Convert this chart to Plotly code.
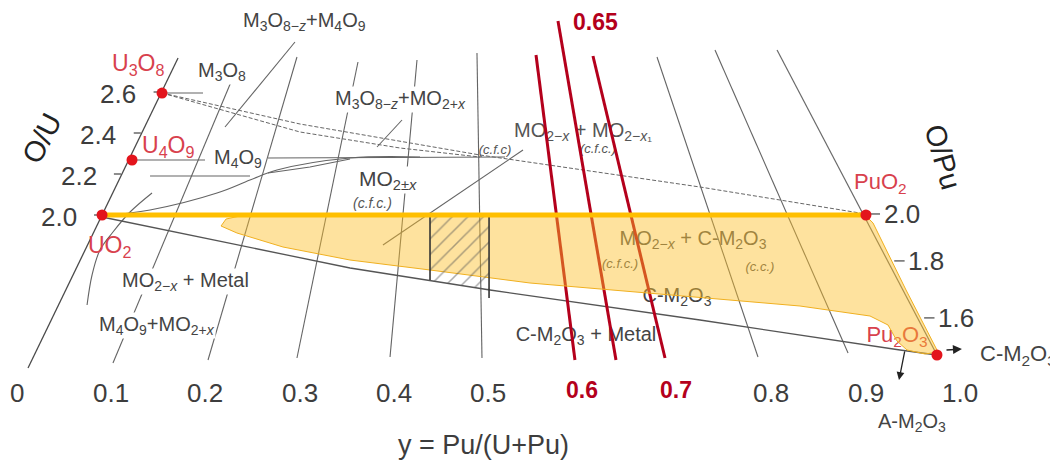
import numpy as np
import plotly.graph_objects as go

# ---------------- DATA (diagram coordinates) ----------------
# x: y = Pu/(U+Pu) scale along the bottom; y: O/M scale (O/U side)
pu_ticks = [0, 0.1, 0.2, 0.3, 0.4, 0.5, 0.6, 0.7, 0.8, 0.9, 1.0]
pu_tick_labels = ["0", "0.1", "0.2", "0.3", "0.4", "0.5", "0.6", "0.7", "0.8", "0.9", "1.0"]
pu_red_ticks = [0.6, 0.7]
pu_label_level = 1.132

ou_ticks = [2.0, 2.2, 2.4, 2.6]
ou_axis_x = [0.0138, 0.1729]
ou_axis_y = [1.2537, 2.7659]

opu_tick_labels = ["2.0", "1.8", "1.6"]
opu_tick_level = [2.005, 1.776, 1.498]
opu_axis_x = [0.8081, 0.9777]
opu_axis_y = [2.8049, 1.3171]

# iso-composition lines
iso_1_x = [0.1039, 0.2344]; iso_1_y = [1.278, 2.7073]
iso_2_x = [0.2047, 0.2990]; iso_2_y = [1.2927, 2.7707]
iso_3_x = [0.2990, 0.3637]; iso_3_y = [1.3024, 2.7463]
iso_4_x = [0.3977, 0.4263]; iso_4_y = [1.3073, 2.7561]
iso_5_x = [0.4952, 0.4899]; iso_5_y = [1.3024, 2.7902]
iso_8_x = [0.6808, 0.7879]; iso_8_y = [2.7707, 1.3073]
iso_9_x = [0.7423, 0.8834]; iso_9_y = [2.8049, 1.3268]

# phase boundaries
u3o8_tie_x = [0.1559, 0.1994]; u3o8_tie_y = [2.595, 2.595]
u4o9_tie_x = [0.1241, 0.2015]; u4o9_tie_y = [2.2683, 2.2683]
m4o9_upper_x = [0.2683, 0.5196]; m4o9_upper_y = [2.278, 2.2829]
m4o9_lower_x = [0.1432, 0.2492]; m4o9_lower_y = [2.1902, 2.1902]
mo2x_upper_x = [0.0933, 0.1432, 0.2142, 0.2492, 0.2778, 0.3553, 0.4295]
mo2x_upper_y = [1.9951, 2.0244, 2.1073, 2.1707, 2.2195, 2.278, 2.2829]
m4o9_curve_x = [0.2683, 0.3128, 0.3553]
m4o9_curve_y = [2.2049, 2.2341, 2.2732]
uo2_curve_x = [0.0764, 0.0817, 0.0901, 0.1039, 0.1220, 0.1453]
uo2_curve_y = [1.561, 1.7073, 1.8293, 1.9171, 2.0146, 2.1073]
m3o8_leader_x = [0.2969, 0.2227]; m3o8_leader_y = [2.8439, 2.4293]
m3o8_mo2_leader_x = [0.4104, 0.3839]; m3o8_mo2_leader_y = [2.4634, 2.3317]
cfc_line_x = [0.3902, 0.5387]; cfc_line_y = [1.8537, 2.3171]
metal_bound_x = [0.0923, 0.3553, 0.5037, 0.7264, 0.9385, 0.9777]
metal_bound_y = [1.9902, 1.7415, 1.6341, 1.4878, 1.3415, 1.317]
dash_top_x = [0.1559, 0.3022, 0.4931, 0.7264, 0.9024]
dash_top_y = [2.595, 2.4439, 2.2927, 2.1366, 2.0049]
dash_low_x = [0.1559, 0.3022, 0.4083, 0.4931]
dash_low_y = [2.595, 2.4049, 2.3268, 2.2829]

# two-phase MO2-x + C-M2O3 field (highlighted)
field_x = [0.2185, 0.2238, 0.2386, 0.9024, 0.9099, 0.9449, 0.9788, 0.9650, 0.9459, 0.9353,
           0.9258, 0.9067, 0.8324, 0.7582, 0.6522, 0.5461, 0.4401, 0.3552, 0.2842, 0.2354, 0.2185]
field_y = [1.9463, 1.9805, 1.9951, 1.9951, 1.961, 1.6341, 1.3317, 1.322, 1.3415, 1.3854,
           1.4634, 1.5073, 1.5561, 1.5854, 1.6244, 1.6683, 1.7317, 1.7805, 1.8439, 1.9122, 1.9463]
hatch_x = [0.4401, 0.5027, 0.5027, 0.4401, 0.4401]
hatch_y = [1.9902, 1.9902, 1.6341, 1.678, 1.9902]
hatch_left_x = [0.4401, 0.4401]; hatch_left_y = [1.9902, 1.6829]
hatch_right_x = [0.5027, 0.5027]; hatch_right_y = [1.9902, 1.5951]

# O/M = 2.0 line UO2 -> PuO2
om2_x = [0.0923, 0.9024]; om2_y = [2.0, 2.0]

# Pu content cuts
cut_060_x = [0.5525, 0.5938]; cut_060_y = [2.7805, 1.2927]
cut_065_x = [0.5758, 0.6373]; cut_065_y = [2.9463, 1.2927]
cut_070_x = [0.6129, 0.6893]; cut_070_y = [2.7756, 1.3024]

# compounds
compound_names = ["U3O8", "U4O9", "UO2", "PuO2", "Pu2O3"]
compound_x = [0.1559, 0.1241, 0.0923, 0.9024, 0.9777]
compound_y = [2.595, 2.2683, 2.0, 2.0, 1.317]

# ---------------- STYLE ----------------
FONT = "Liberation Sans, Arial, sans-serif"
GRAY = "rgb(100,100,100)"
TXT = "#3d3d3d"
RED_LBL = "#d8414d"
DARK_RED = "#b4001c"

fig = go.Figure()

def line(xs, ys, color=GRAY, width=1.1, dash=None):
    fig.add_trace(go.Scatter(x=xs, y=ys, mode="lines", hoverinfo="skip", showlegend=False,
                             line=dict(color=color, width=width, dash=dash)))

# gray structure
line(ou_axis_x, ou_axis_y, color="#4a4a4a", width=1.3)
line(opu_axis_x, opu_axis_y, color="#6a6a6a", width=1.2)
for xs, ys in [(iso_1_x, iso_1_y), (iso_2_x, iso_2_y), (iso_3_x, iso_3_y), (iso_4_x, iso_4_y),
               (iso_5_x, iso_5_y), (iso_8_x, iso_8_y), (iso_9_x, iso_9_y),
               (u3o8_tie_x, u3o8_tie_y), (u4o9_tie_x, u4o9_tie_y), (m4o9_upper_x, m4o9_upper_y),
               (m4o9_lower_x, m4o9_lower_y), (m4o9_curve_x, m4o9_curve_y),
               (m3o8_leader_x, m3o8_leader_y), (m3o8_mo2_leader_x, m3o8_mo2_leader_y),
               (cfc_line_x, cfc_line_y)]:
    line(xs, ys)
fig.add_trace(go.Scatter(x=mo2x_upper_x, y=mo2x_upper_y, mode="lines", hoverinfo="skip", showlegend=False,
                         line=dict(color=GRAY, width=1.1, shape="spline")))
fig.add_trace(go.Scatter(x=uo2_curve_x, y=uo2_curve_y, mode="lines", hoverinfo="skip", showlegend=False,
                         line=dict(color=GRAY, width=1.1, shape="spline")))
line(metal_bound_x, metal_bound_y, color="#555555", width=1.3)
line(dash_top_x, dash_top_y, color="#666666", width=1, dash="4px,2px")
line(dash_low_x, dash_low_y, color="#666666", width=1, dash="4px,2px")

# axis tick dashes
def interp_axis(level, ax_x, ax_y):
    return ax_x[0] + (level - ax_y[0]) * (ax_x[1] - ax_x[0]) / (ax_y[1] - ax_y[0])

for v in ou_ticks:
    xa = interp_axis(v, ou_axis_x, ou_axis_y)
    line([xa - 0.0085, xa - 0.001], [v, v], color="#444", width=1.2)
for lv in opu_tick_level:
    xa = interp_axis(lv, opu_axis_x, opu_axis_y)
    line([xa + 0.007, xa + 0.018], [lv, lv], color="#444", width=1.2)

# labels that sit beneath the red cuts / the highlighted field
def tlabel(x, y, text, size=20, color=TXT):
    fig.add_trace(go.Scatter(x=[x], y=[y], mode="text", text=[text], hoverinfo="skip", showlegend=False,
                             textposition="middle center",
                             textfont=dict(family=FONT, size=size, color=color)))

tlabel(0.6023, 2.405, "MO<sub>2−<i>x</i></sub> + MO<sub>2−<i>x</i>₁</sub>", 20, "#555")
tlabel(0.509, 2.312, "<i>(c.f.c)</i>", 13, "#555")
tlabel(0.6182, 2.318, "<i>(c.f.c.)</i>", 13, "#555")
tlabel(0.6055, 1.4098, "C-M<sub>2</sub>O<sub>3</sub> + Metal", 20, "#444")
tlabel(0.7190, 1.878, "MO<sub>2−<i>x</i></sub> + C-M<sub>2</sub>O<sub>3</sub>", 20, "#555")
tlabel(0.6416, 1.756, "<i>(c.f.c.)</i>", 13, "#555")
tlabel(0.7900, 1.741, "<i>(c.c.)</i>", 13, "#555")
tlabel(0.7020, 1.600, "C-M<sub>2</sub>O<sub>3</sub>", 20, "#444")
tlabel(0.9353, 1.405, "Pu<sub>2</sub>O<sub>3</sub>", 22, RED_LBL)

# red cuts
for xs, ys in [(cut_060_x, cut_060_y), (cut_065_x, cut_065_y), (cut_070_x, cut_070_y)]:
    line(xs, ys, color=DARK_RED, width=3)

# highlighted field
fig.add_trace(go.Scatter(x=field_x, y=field_y, mode="lines", fill="toself", hoverinfo="skip",
                         showlegend=False, fillcolor="rgba(252,190,40,0.45)",
                         line=dict(color="#f0b020", width=1)))
# hatched zone
fig.add_trace(go.Scatter(x=hatch_x, y=hatch_y, mode="lines", fill="toself", hoverinfo="skip",
                         showlegend=False, fillcolor="rgba(0,0,0,0)",
                         fillpattern=dict(shape="/", fgcolor="#555", bgcolor="rgba(0,0,0,0)",
                                          size=11, solidity=0.14),
                         line=dict(width=0)))
line(hatch_left_x, hatch_left_y, color="#333", width=1.6)
line(hatch_right_x, hatch_right_y, color="#333", width=1.6)

# O/M = 2 line
line(om2_x, om2_y, color="#ffbf00", width=5)

# compound points
fig.add_trace(go.Scatter(x=compound_x, y=compound_y, mode="markers", hoverinfo="skip", showlegend=False,
                         marker=dict(color="#e3141c", size=11)))

# ---------------- ANNOTATIONS ----------------
ann = []

def alabel(x, y, text, size=20, color=TXT, bg=None, angle=0, xanchor="center", bold=False):
    d = dict(x=x, y=y, xref="x", yref="y", text=("<b>%s</b>" % text) if bold else text,
             showarrow=False, xanchor=xanchor, yanchor="middle", textangle=angle,
             font=dict(family=FONT, size=size, color=color), borderpad=0)
    if bg:
        d["bgcolor"] = bg
    ann.append(d)

# bottom scale
for v, t in zip(pu_ticks, pu_tick_labels):
    if v in pu_red_ticks:
        alabel(v + 0.001, pu_label_level + 0.012, t, 23, DARK_RED, bold=True)
    else:
        alabel(v + 0.002, pu_label_level, t, 26, TXT)
alabel(0.4963, 0.878, "y = Pu/(U+Pu)", 27, TXT)
alabel(0.6151, 2.9415, "0.65", 23, DARK_RED, bold=True)

# O/U scale
for v in ou_ticks:
    xa = interp_axis(v, ou_axis_x, ou_axis_y)
    alabel(xa - 0.046, v - 0.01, "%.1f" % v, 26, TXT)
alabel(0.0286, 2.3756, "O/U", 29, "#222", angle=-63)

# O/Pu scale
for t, lv in zip(opu_tick_labels, opu_tick_level):
    xa = interp_axis(lv, opu_axis_x, opu_axis_y)
    alabel(xa + 0.041, lv, t, 26, TXT)
alabel(0.9841, 2.2829, "O/Pu", 29, "#222", angle=74)

# phase field labels (white background opens gaps in lines)
alabel(0.3075, 2.9415, "M<sub>3</sub>O<sub>8−<i>z</i></sub>+M<sub>4</sub>O<sub>9</sub>", 20, "#444", bg="white")
alabel(0.2195, 2.6976, "M<sub>3</sub>O<sub>8</sub>", 20, "#444", bg="white")
alabel(0.2365, 2.278, "M<sub>4</sub>O<sub>9</sub>", 20, "#444", bg="white")
alabel(0.4083, 2.561, "M<sub>3</sub>O<sub>8−<i>z</i></sub>+MO<sub>2+<i>x</i></sub>", 20, "#444", bg="white")
alabel(0.3955, 2.1707, "MO<sub>2±<i>x</i></sub>", 21, "#444", bg="white")
alabel(0.3786, 2.0585, "<i>(c.f.c.)</i>", 14, "#555")
alabel(0.1813, 1.678, "MO<sub>2−<i>x</i></sub> + Metal", 20, "#444", bg="white")
alabel(0.1506, 1.4634, "M<sub>4</sub>O<sub>9</sub>+MO<sub>2+<i>x</i></sub>", 20, "#444", bg="white")
alabel(1.0223, 1.317, "C-M<sub>2</sub>O<sub>3</sub>", 22, "#444", xanchor="left")
alabel(0.9512, 0.9854, "A-M<sub>2</sub>O<sub>3</sub>", 20, "#444")

# compound names
alabel(0.1304, 2.7366, "U<sub>3</sub>O<sub>8</sub>", 23, RED_LBL)
alabel(0.1622, 2.3366, "U<sub>4</sub>O<sub>9</sub>", 23, RED_LBL)
alabel(0.1007, 1.8488, "UO<sub>2</sub>", 23, RED_LBL)
alabel(0.9173, 2.1561, "PuO<sub>2</sub>", 22, RED_LBL)

# arrows from Pu2O3
ann.append(dict(x=1.0042, y=1.3463, ax=0.9862, ay=1.3415, xref="x", yref="y", axref="x", ayref="y",
                text="", showarrow=True, arrowhead=2, arrowsize=1.2, arrowwidth=1.5, arrowcolor="#222"))
ann.append(dict(x=0.9374, y=1.1951, ax=0.9438, ay=1.3415, xref="x", yref="y", axref="x", ayref="y",
                text="", showarrow=True, arrowhead=2, arrowsize=1.2, arrowwidth=1.3, arrowcolor="#222"))

fig.update_layout(
    width=1050, height=461,
    margin=dict(l=0, r=0, t=0, b=0),
    paper_bgcolor="white", plot_bgcolor="white",
    xaxis=dict(range=[-0.01591, 1.09756], visible=False, fixedrange=True),
    yaxis=dict(range=[0.8, 3.04878], visible=False, fixedrange=True),
    annotations=ann,
    showlegend=False,
)

fig.write_html(
    "out.html",
    config={"displayModeBar": False, "staticPlot": True},
    post_script="document.body.style.margin='0px';document.body.style.padding='0px';"
                "document.body.style.overflow='hidden';",
)
